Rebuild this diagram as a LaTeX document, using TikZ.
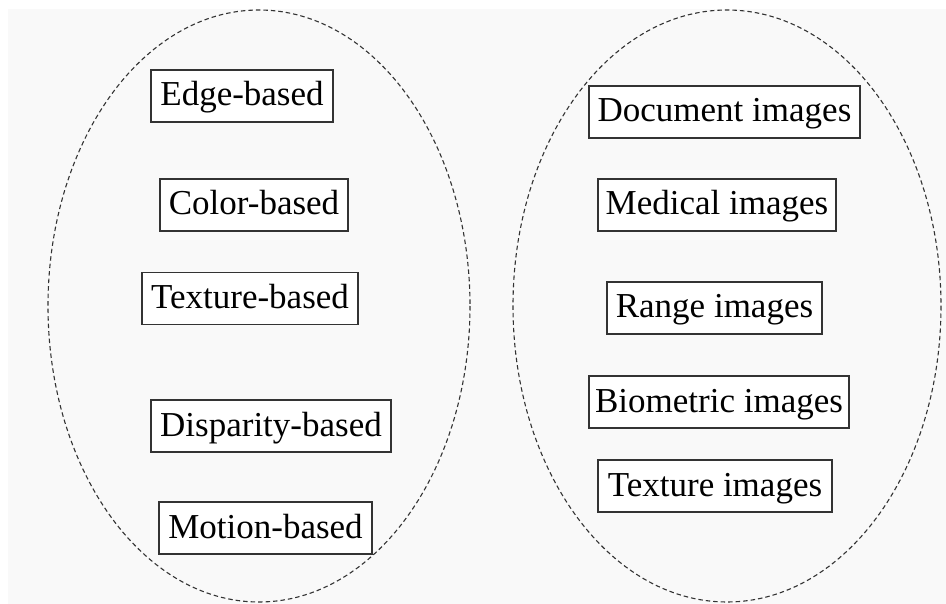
\documentclass[tikz,border=0pt]{standalone}
\usepackage{fontspec}
\setmainfont{Liberation Serif}
\definecolor{bgcol}{HTML}{F9F9F9}
\definecolor{linecol}{HTML}{333333}
\begin{document}
\begin{tikzpicture}[x=1pt,y=-1pt,
  catbox/.style={draw=linecol, line width=1.3pt, fill=white, inner sep=0pt, minimum height=52pt,
    text height=24pt, text depth=4pt,
    font=\fontsize{35}{40}\selectfont, text=black, anchor=center},
  group/.style={draw=linecol, line width=1.1pt, dash pattern=on 4.5pt off 3pt}]
\useasboundingbox (0,0) rectangle (946,604);
\fill[white] (0,0) rectangle (946,604);
\fill[bgcol] (8,9) rectangle (946,604);
\draw[group] (259,306) ellipse [x radius=211, y radius=296];
\draw[group] (727,306) ellipse [x radius=214, y radius=296];
\node[catbox, minimum width=182pt] (edge) at (242,96) {Edge-based};
\node[catbox, minimum width=188pt] (color) at (254,205) {Color-based};
\node[catbox, minimum width=216pt] (texb) at (250,298.5) {Texture-based};
\node[catbox, minimum width=240pt] (disp) at (271,426) {Disparity-based};
\node[catbox, minimum width=213pt] (motion) at (265.5,528) {Motion-based};
\node[catbox, minimum width=271pt] (doc) at (724.5,112) {Document images};
\node[catbox, minimum width=238pt] (med) at (717,205) {Medical images};
\node[catbox, minimum width=215pt] (range) at (714.5,308) {Range images};
\node[catbox, minimum width=260pt] (bio) at (719,402) {Biometric images};
\node[catbox, minimum width=234pt] (texi) at (715,486) {Texture images};
\end{tikzpicture}
\end{document}
